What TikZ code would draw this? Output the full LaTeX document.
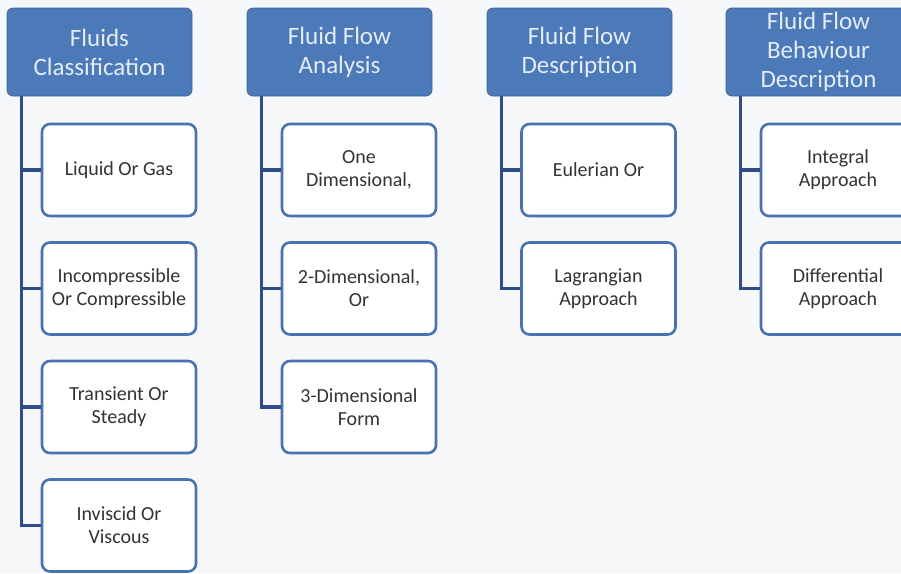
\documentclass[tikz,border=0pt]{standalone}
\usepackage{fontspec}
\setmainfont{Carlito}
\usetikzlibrary{calc}

\definecolor{headblue}{HTML}{4C79B7}
\definecolor{headtext}{HTML}{E3ECF7}
\definecolor{boxblue}{HTML}{4A72B0}
\definecolor{trunkblue}{HTML}{304C88}
\definecolor{paper}{HTML}{F6F7F9}

\tikzset{
  head/.style={draw=headblue!85!black, line width=0.8pt, fill=headblue, rounded corners=6pt,
    minimum width=185pt, minimum height=88pt, inner sep=0pt, align=center,
    text=headtext, font=\fontsize{25}{29}\selectfont},
  item/.style={draw=boxblue, line width=2.6pt, fill=white, rounded corners=8pt,
    minimum width=154pt, minimum height=92pt, inner sep=0pt, align=center,
    text=black!80, font=\fontsize{20}{23}\selectfont},
  trunk/.style={draw=trunkblue, line width=3.6pt}
}

\begin{document}
\begin{tikzpicture}[x=1pt,y=-1pt]
        \useasboundingbox (0,0) rectangle (901,573);
        \fill[paper] (0,0) rectangle (901,573);
        \clip (0,0) rectangle (901,573);

        % headers
        \node(h1) at (99.5,52) [head]{Fluids\\Classification};
        \node(h2) at (339.5,52) [head]{Fluid Flow\\Analysis};
        \node(h3) at (579.5,52) [head]{Fluid Flow\\Description};
        \node(h4) at (818.5,52) [head]{Fluid Flow\\Behaviour\\Description};

        % trunk positions
        \coordinate(t1) at ([xshift=15pt]h1.south west);
        \coordinate(t2) at ([xshift=15pt]h2.south west);
        \coordinate(t3) at ([xshift=15pt]h3.south west);
        \coordinate(t4) at ([xshift=15pt]h4.south west);

        % first column
        \node(c11) at (119,170) [item]{Liquid Or Gas};
        \node(c12) at (119,288.5) [item]{Incompressible\\Or Compressible};
        \node(c13) at (119,407) [item]{Transient Or\\Steady};
        \node(c14) at (119,525.5) [item]{Inviscid Or\\Viscous};

        % second column
        \node(c21) at (359,170) [item]{One\\Dimensional,};
        \node(c22) at (359,288.5) [item]{2-Dimensional,\\Or};
        \node(c23) at (359,407) [item]{3-Dimensional\\Form};

        % third column
        \node(c31) at (598.5,170) [item]{Eulerian Or};
        \node(c32) at (598.5,288.5) [item]{Lagrangian\\Approach};

        % fourth column
        \node(c41) at (838,170) [item]{Integral\\Approach};
        \node(c42) at (838,288.5) [item]{Differential\\Approach};

        \draw[trunk](t1) |- (c14.west);
        \draw[trunk](t1 |- c11.west) -- (c11.west);
        \draw[trunk](t1 |- c12.west) -- (c12.west);
        \draw[trunk](t1 |- c13.west) -- (c13.west);

        \draw[trunk](t2) |- (c23.west);
        \draw[trunk](t2 |- c21.west) -- (c21.west);
        \draw[trunk](t2 |- c22.west) -- (c22.west);

        \draw[trunk](t3) |- (c32.west);
        \draw[trunk](t3 |- c31.west) -- (c31.west);

        \draw[trunk](t4) |- (c42.west);
        \draw[trunk](t4 |- c41.west) -- (c41.west);

    \end{tikzpicture}
\end{document}
